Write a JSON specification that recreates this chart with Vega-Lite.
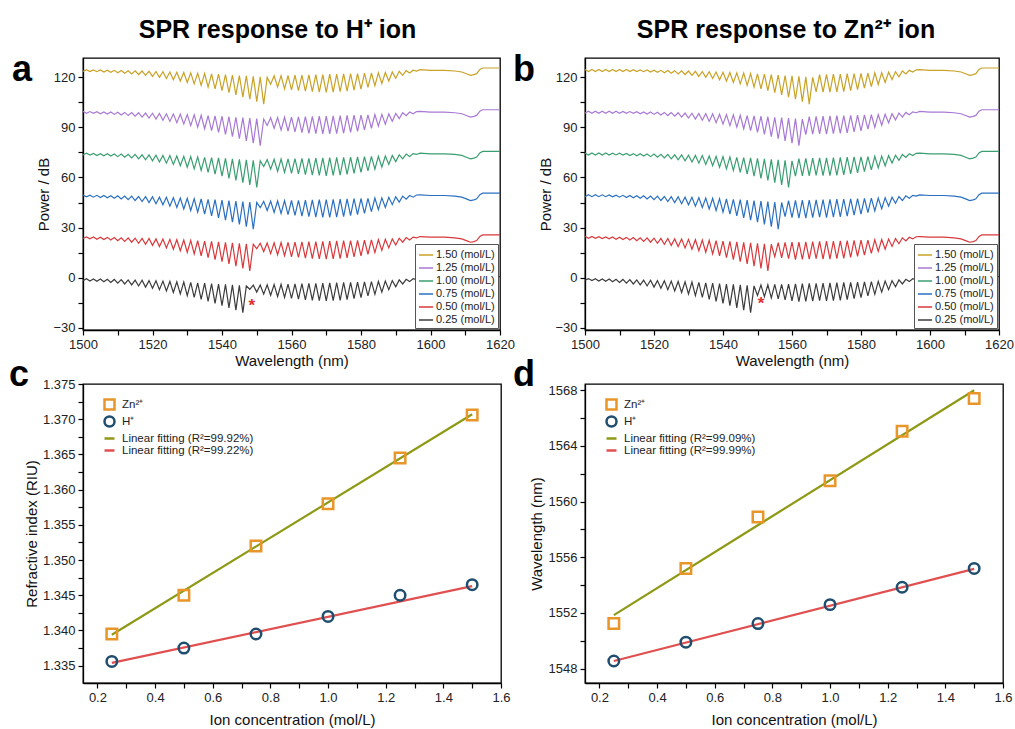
{
"$schema": "https://vega.github.io/schema/vega-lite/v6.json",
"background": "white",
"padding": {"left": 8, "top": 17, "right": 0, "bottom": 0},
"config": {
 "font": "Liberation Sans",
 "view": {"stroke": "#000", "strokeWidth": 1.3},
 "title": {"font": "Liberation Sans", "color": "#000"},
 "axis": {"grid": false, "domainColor": "#000", "domainWidth": 1.3, "tickColor": "#000", "tickWidth": 1.2, "tickSize": 5, "labelFont": "Liberation Sans", "labelFontSize": 13, "labelColor": "#222", "titleFont": "Liberation Sans", "titleFontSize": 15, "titleFontWeight": "normal", "titleColor": "#111", "labelFlush": false, "labelOverlap": false, "labelBound": false, "labelPadding": 3}
},
"datasets": {
"a025": [{"x":1500,"y":-1.8},{"x":1501,"y":-0.7},{"x":1502,"y":-2},{"x":1503,"y":-0.8},{"x":1504,"y":-2.2},{"x":1505,"y":-0.9},{"x":1506,"y":-2.5},{"x":1507,"y":-1},{"x":1508,"y":-2.9},{"x":1509,"y":-1.1},{"x":1510,"y":-3.3},{"x":1511,"y":-1.2},{"x":1512,"y":-3.8},{"x":1513,"y":-1.4},{"x":1514,"y":-4.4},{"x":1515,"y":-1.5},{"x":1516,"y":-5},{"x":1517,"y":-1.6},{"x":1518,"y":-5.7},{"x":1519,"y":-1.8},{"x":1520,"y":-6.4},{"x":1521,"y":-1.9},{"x":1522,"y":-7.2},{"x":1523,"y":-2.1},{"x":1524,"y":-8},{"x":1525,"y":-2.3},{"x":1526,"y":-8.9},{"x":1527,"y":-2.5},{"x":1528,"y":-9.8},{"x":1529,"y":-2.7},{"x":1530,"y":-10.8},{"x":1531,"y":-2.9},{"x":1532,"y":-11.9},{"x":1533,"y":-3.1},{"x":1534,"y":-13},{"x":1535,"y":-3.3},{"x":1536,"y":-14.2},{"x":1537,"y":-3.6},{"x":1538,"y":-15.5},{"x":1539,"y":-3.9},{"x":1540,"y":-16.8},{"x":1541,"y":-4.1},{"x":1542,"y":-18.1},{"x":1543,"y":-4.4},{"x":1544,"y":-19.5},{"x":1545,"y":-4.7},{"x":1546,"y":-21},{"x":1547,"y":-5},{"x":1548,"y":-7},{"x":1549,"y":-4.5},{"x":1550,"y":-8.7},{"x":1551,"y":-4.4},{"x":1552,"y":-9.9},{"x":1553,"y":-4.3},{"x":1554,"y":-10.6},{"x":1555,"y":-4.1},{"x":1556,"y":-11.3},{"x":1557,"y":-4},{"x":1558,"y":-11.9},{"x":1559,"y":-3.9},{"x":1560,"y":-12.5},{"x":1561,"y":-3.7},{"x":1562,"y":-12.9},{"x":1563,"y":-3.6},{"x":1564,"y":-13.3},{"x":1565,"y":-3.5},{"x":1566,"y":-13.6},{"x":1567,"y":-3.4},{"x":1568,"y":-13.8},{"x":1569,"y":-3.3},{"x":1570,"y":-14},{"x":1571,"y":-3.1},{"x":1572,"y":-13.8},{"x":1573,"y":-3},{"x":1574,"y":-13.6},{"x":1575,"y":-2.9},{"x":1576,"y":-13.2},{"x":1577,"y":-2.8},{"x":1578,"y":-12.6},{"x":1579,"y":-2.7},{"x":1580,"y":-12},{"x":1581,"y":-2.5},{"x":1582,"y":-11},{"x":1583,"y":-2.4},{"x":1584,"y":-10},{"x":1585,"y":-2.3},{"x":1586,"y":-8.7},{"x":1587,"y":-2.1},{"x":1588,"y":-7.2},{"x":1589,"y":-1.8},{"x":1590,"y":-5.5},{"x":1591,"y":-1.4},{"x":1592,"y":-3.8},{"x":1593,"y":-1},{"x":1594,"y":-2.4},{"x":1595,"y":-0.7},{"x":1596,"y":-1.2},{"x":1597,"y":-0.4},{"x":1600,"y":-0.8},{"x":1604,"y":-0.8},{"x":1607,"y":-1.2},{"x":1609,"y":-1.8},{"x":1610.5,"y":-3},{"x":1611.5,"y":-3.8},{"x":1612.5,"y":-3.4},{"x":1613.3,"y":-2.8},{"x":1614.2,"y":-0.3},{"x":1615,"y":0.6},{"x":1620,"y":0.6}],
"a050": [{"x":1500,"y":23.4},{"x":1501,"y":24.4},{"x":1502,"y":23.2},{"x":1503,"y":24.3},{"x":1504,"y":23},{"x":1505,"y":24.2},{"x":1506,"y":22.8},{"x":1507,"y":24.1},{"x":1508,"y":22.5},{"x":1509,"y":24},{"x":1510,"y":22.1},{"x":1511,"y":23.9},{"x":1512,"y":21.7},{"x":1513,"y":23.8},{"x":1514,"y":21.2},{"x":1515,"y":23.6},{"x":1516,"y":20.6},{"x":1517,"y":23.5},{"x":1518,"y":20},{"x":1519,"y":23.4},{"x":1520,"y":19.3},{"x":1521,"y":23.2},{"x":1522,"y":18.6},{"x":1523,"y":23.1},{"x":1524,"y":17.8},{"x":1525,"y":22.9},{"x":1526,"y":17},{"x":1527,"y":22.7},{"x":1528,"y":16.1},{"x":1529,"y":22.5},{"x":1530,"y":15.2},{"x":1531,"y":22.3},{"x":1532,"y":14.2},{"x":1533,"y":22.1},{"x":1534,"y":13.1},{"x":1535,"y":21.9},{"x":1536,"y":12},{"x":1537,"y":21.7},{"x":1538,"y":10.8},{"x":1539,"y":21.4},{"x":1540,"y":9.5},{"x":1541,"y":21.1},{"x":1542,"y":8.2},{"x":1543,"y":20.9},{"x":1544,"y":6.9},{"x":1545,"y":20.6},{"x":1546,"y":5.5},{"x":1547,"y":20.3},{"x":1548,"y":4},{"x":1549,"y":20},{"x":1550,"y":17.3},{"x":1551,"y":20.6},{"x":1552,"y":15.6},{"x":1553,"y":20.7},{"x":1554,"y":14.4},{"x":1555,"y":20.9},{"x":1556,"y":13.7},{"x":1557,"y":21},{"x":1558,"y":13.1},{"x":1559,"y":21.1},{"x":1560,"y":12.5},{"x":1561,"y":21.3},{"x":1562,"y":12.1},{"x":1563,"y":21.4},{"x":1564,"y":11.7},{"x":1565,"y":21.5},{"x":1566,"y":11.4},{"x":1567,"y":21.6},{"x":1568,"y":11.2},{"x":1569,"y":21.7},{"x":1570,"y":11},{"x":1571,"y":21.9},{"x":1572,"y":11.2},{"x":1573,"y":22},{"x":1574,"y":11.4},{"x":1575,"y":22.1},{"x":1576,"y":11.8},{"x":1577,"y":22.2},{"x":1578,"y":12.4},{"x":1579,"y":22.3},{"x":1580,"y":13},{"x":1581,"y":22.5},{"x":1582,"y":14},{"x":1583,"y":22.6},{"x":1584,"y":15},{"x":1585,"y":22.7},{"x":1586,"y":16.3},{"x":1587,"y":22.9},{"x":1588,"y":17.8},{"x":1589,"y":23.2},{"x":1590,"y":19.5},{"x":1591,"y":23.6},{"x":1592,"y":21.2},{"x":1593,"y":24},{"x":1594,"y":22.6},{"x":1595,"y":24.3},{"x":1596,"y":23.8},{"x":1597,"y":24.6},{"x":1600,"y":24.2},{"x":1604,"y":24.2},{"x":1607,"y":23.8},{"x":1609,"y":23.2},{"x":1610.5,"y":22},{"x":1611.5,"y":21.2},{"x":1612.5,"y":21.6},{"x":1613.3,"y":22.2},{"x":1614.2,"y":24.7},{"x":1615,"y":25.6},{"x":1620,"y":25.6}],
"a075": [{"x":1500,"y":49.5},{"x":1501,"y":48.4},{"x":1502,"y":49.4},{"x":1503,"y":48.2},{"x":1504,"y":49.3},{"x":1505,"y":48},{"x":1506,"y":49.2},{"x":1507,"y":47.8},{"x":1508,"y":49.1},{"x":1509,"y":47.5},{"x":1510,"y":49},{"x":1511,"y":47.1},{"x":1512,"y":48.9},{"x":1513,"y":46.7},{"x":1514,"y":48.8},{"x":1515,"y":46.2},{"x":1516,"y":48.6},{"x":1517,"y":45.6},{"x":1518,"y":48.5},{"x":1519,"y":45},{"x":1520,"y":48.4},{"x":1521,"y":44.3},{"x":1522,"y":48.2},{"x":1523,"y":43.6},{"x":1524,"y":48.1},{"x":1525,"y":42.8},{"x":1526,"y":47.9},{"x":1527,"y":42},{"x":1528,"y":47.7},{"x":1529,"y":41.1},{"x":1530,"y":47.5},{"x":1531,"y":40.2},{"x":1532,"y":47.3},{"x":1533,"y":39.2},{"x":1534,"y":47.1},{"x":1535,"y":38.1},{"x":1536,"y":46.9},{"x":1537,"y":37},{"x":1538,"y":46.7},{"x":1539,"y":35.8},{"x":1540,"y":46.4},{"x":1541,"y":34.5},{"x":1542,"y":46.1},{"x":1543,"y":33.2},{"x":1544,"y":45.9},{"x":1545,"y":31.9},{"x":1546,"y":45.6},{"x":1547,"y":30.5},{"x":1548,"y":45.3},{"x":1549,"y":29},{"x":1550,"y":45},{"x":1551,"y":41.9},{"x":1552,"y":45.7},{"x":1553,"y":40.2},{"x":1554,"y":45.8},{"x":1555,"y":39},{"x":1556,"y":45.9},{"x":1557,"y":38.4},{"x":1558,"y":46.1},{"x":1559,"y":37.8},{"x":1560,"y":46.2},{"x":1561,"y":37.3},{"x":1562,"y":46.3},{"x":1563,"y":36.9},{"x":1564,"y":46.4},{"x":1565,"y":36.5},{"x":1566,"y":46.6},{"x":1567,"y":36.3},{"x":1568,"y":46.7},{"x":1569,"y":36.1},{"x":1570,"y":46.8},{"x":1571,"y":36.1},{"x":1572,"y":46.9},{"x":1573,"y":36.3},{"x":1574,"y":47},{"x":1575,"y":36.5},{"x":1576,"y":47.2},{"x":1577,"y":37.1},{"x":1578,"y":47.3},{"x":1579,"y":37.7},{"x":1580,"y":47.4},{"x":1581,"y":38.5},{"x":1582,"y":47.5},{"x":1583,"y":39.5},{"x":1584,"y":47.7},{"x":1585,"y":40.7},{"x":1586,"y":47.8},{"x":1587,"y":42},{"x":1588,"y":48.1},{"x":1589,"y":43.7},{"x":1590,"y":48.4},{"x":1591,"y":45.3},{"x":1592,"y":48.8},{"x":1593,"y":47},{"x":1594,"y":49.2},{"x":1595,"y":48.2},{"x":1596,"y":49.5},{"x":1597,"y":49.6},{"x":1600,"y":49.2},{"x":1604,"y":49.2},{"x":1607,"y":48.8},{"x":1609,"y":48.2},{"x":1610.5,"y":47},{"x":1611.5,"y":46.2},{"x":1612.5,"y":46.6},{"x":1613.3,"y":47.2},{"x":1614.2,"y":49.7},{"x":1615,"y":50.6},{"x":1620,"y":50.6}],
"a100": [{"x":1500,"y":73.5},{"x":1501,"y":74.5},{"x":1502,"y":73.4},{"x":1503,"y":74.4},{"x":1504,"y":73.2},{"x":1505,"y":74.3},{"x":1506,"y":73},{"x":1507,"y":74.2},{"x":1508,"y":72.8},{"x":1509,"y":74.1},{"x":1510,"y":72.5},{"x":1511,"y":74},{"x":1512,"y":72.1},{"x":1513,"y":73.9},{"x":1514,"y":71.7},{"x":1515,"y":73.8},{"x":1516,"y":71.2},{"x":1517,"y":73.6},{"x":1518,"y":70.6},{"x":1519,"y":73.5},{"x":1520,"y":70},{"x":1521,"y":73.4},{"x":1522,"y":69.3},{"x":1523,"y":73.2},{"x":1524,"y":68.6},{"x":1525,"y":73.1},{"x":1526,"y":67.8},{"x":1527,"y":72.9},{"x":1528,"y":67},{"x":1529,"y":72.7},{"x":1530,"y":66.1},{"x":1531,"y":72.5},{"x":1532,"y":65.2},{"x":1533,"y":72.3},{"x":1534,"y":64.2},{"x":1535,"y":72.1},{"x":1536,"y":63.1},{"x":1537,"y":71.9},{"x":1538,"y":62},{"x":1539,"y":71.7},{"x":1540,"y":60.8},{"x":1541,"y":71.4},{"x":1542,"y":59.5},{"x":1543,"y":71.1},{"x":1544,"y":58.2},{"x":1545,"y":70.9},{"x":1546,"y":56.9},{"x":1547,"y":70.6},{"x":1548,"y":55.5},{"x":1549,"y":70.3},{"x":1550,"y":54},{"x":1551,"y":70},{"x":1552,"y":66.6},{"x":1553,"y":70.7},{"x":1554,"y":64.9},{"x":1555,"y":70.9},{"x":1556,"y":63.7},{"x":1557,"y":71},{"x":1558,"y":63.1},{"x":1559,"y":71.1},{"x":1560,"y":62.5},{"x":1561,"y":71.3},{"x":1562,"y":62.1},{"x":1563,"y":71.4},{"x":1564,"y":61.7},{"x":1565,"y":71.5},{"x":1566,"y":61.4},{"x":1567,"y":71.6},{"x":1568,"y":61.2},{"x":1569,"y":71.7},{"x":1570,"y":61},{"x":1571,"y":71.9},{"x":1572,"y":61.2},{"x":1573,"y":72},{"x":1574,"y":61.4},{"x":1575,"y":72.1},{"x":1576,"y":61.8},{"x":1577,"y":72.2},{"x":1578,"y":62.4},{"x":1579,"y":72.3},{"x":1580,"y":63},{"x":1581,"y":72.5},{"x":1582,"y":64},{"x":1583,"y":72.6},{"x":1584,"y":65},{"x":1585,"y":72.7},{"x":1586,"y":66.3},{"x":1587,"y":72.9},{"x":1588,"y":67.8},{"x":1589,"y":73.2},{"x":1590,"y":69.5},{"x":1591,"y":73.6},{"x":1592,"y":71.2},{"x":1593,"y":74},{"x":1594,"y":72.6},{"x":1595,"y":74.3},{"x":1596,"y":73.8},{"x":1597,"y":74.6},{"x":1600,"y":74.2},{"x":1604,"y":74.2},{"x":1607,"y":73.8},{"x":1609,"y":73.2},{"x":1610.5,"y":72},{"x":1611.5,"y":71.2},{"x":1612.5,"y":71.6},{"x":1613.3,"y":72.2},{"x":1614.2,"y":74.7},{"x":1615,"y":75.6},{"x":1620,"y":75.6}],
"a125": [{"x":1500,"y":99.6},{"x":1501,"y":98.5},{"x":1502,"y":99.5},{"x":1503,"y":98.4},{"x":1504,"y":99.4},{"x":1505,"y":98.2},{"x":1506,"y":99.3},{"x":1507,"y":98},{"x":1508,"y":99.2},{"x":1509,"y":97.8},{"x":1510,"y":99.1},{"x":1511,"y":97.5},{"x":1512,"y":99},{"x":1513,"y":97.1},{"x":1514,"y":98.9},{"x":1515,"y":96.7},{"x":1516,"y":98.8},{"x":1517,"y":96.2},{"x":1518,"y":98.6},{"x":1519,"y":95.6},{"x":1520,"y":98.5},{"x":1521,"y":95},{"x":1522,"y":98.4},{"x":1523,"y":94.3},{"x":1524,"y":98.2},{"x":1525,"y":93.6},{"x":1526,"y":98.1},{"x":1527,"y":92.8},{"x":1528,"y":97.9},{"x":1529,"y":92},{"x":1530,"y":97.7},{"x":1531,"y":91.1},{"x":1532,"y":97.5},{"x":1533,"y":90.2},{"x":1534,"y":97.3},{"x":1535,"y":89.2},{"x":1536,"y":97.1},{"x":1537,"y":88.1},{"x":1538,"y":96.9},{"x":1539,"y":87},{"x":1540,"y":96.7},{"x":1541,"y":85.8},{"x":1542,"y":96.4},{"x":1543,"y":84.5},{"x":1544,"y":96.1},{"x":1545,"y":83.2},{"x":1546,"y":95.9},{"x":1547,"y":81.9},{"x":1548,"y":95.6},{"x":1549,"y":80.5},{"x":1550,"y":95.3},{"x":1551,"y":79},{"x":1552,"y":95},{"x":1553,"y":91.2},{"x":1554,"y":95.8},{"x":1555,"y":89.5},{"x":1556,"y":95.9},{"x":1557,"y":88.4},{"x":1558,"y":96.1},{"x":1559,"y":87.8},{"x":1560,"y":96.2},{"x":1561,"y":87.3},{"x":1562,"y":96.3},{"x":1563,"y":86.9},{"x":1564,"y":96.4},{"x":1565,"y":86.5},{"x":1566,"y":96.6},{"x":1567,"y":86.3},{"x":1568,"y":96.7},{"x":1569,"y":86.1},{"x":1570,"y":96.8},{"x":1571,"y":86.1},{"x":1572,"y":96.9},{"x":1573,"y":86.3},{"x":1574,"y":97},{"x":1575,"y":86.5},{"x":1576,"y":97.2},{"x":1577,"y":87.1},{"x":1578,"y":97.3},{"x":1579,"y":87.7},{"x":1580,"y":97.4},{"x":1581,"y":88.5},{"x":1582,"y":97.5},{"x":1583,"y":89.5},{"x":1584,"y":97.7},{"x":1585,"y":90.7},{"x":1586,"y":97.8},{"x":1587,"y":92},{"x":1588,"y":98.1},{"x":1589,"y":93.7},{"x":1590,"y":98.4},{"x":1591,"y":95.3},{"x":1592,"y":98.8},{"x":1593,"y":97},{"x":1594,"y":99.2},{"x":1595,"y":98.2},{"x":1596,"y":99.5},{"x":1597,"y":99.6},{"x":1600,"y":99.2},{"x":1604,"y":99.2},{"x":1607,"y":98.8},{"x":1609,"y":98.2},{"x":1610.5,"y":97},{"x":1611.5,"y":96.2},{"x":1612.5,"y":96.6},{"x":1613.3,"y":97.2},{"x":1614.2,"y":99.7},{"x":1615,"y":100.6},{"x":1620,"y":100.6}],
"a150": [{"x":1500,"y":123.5},{"x":1501,"y":124.6},{"x":1502,"y":123.5},{"x":1503,"y":124.5},{"x":1504,"y":123.4},{"x":1505,"y":124.4},{"x":1506,"y":123.2},{"x":1507,"y":124.3},{"x":1508,"y":123},{"x":1509,"y":124.2},{"x":1510,"y":122.8},{"x":1511,"y":124.1},{"x":1512,"y":122.5},{"x":1513,"y":124},{"x":1514,"y":122.1},{"x":1515,"y":123.9},{"x":1516,"y":121.7},{"x":1517,"y":123.8},{"x":1518,"y":121.2},{"x":1519,"y":123.6},{"x":1520,"y":120.6},{"x":1521,"y":123.5},{"x":1522,"y":120},{"x":1523,"y":123.4},{"x":1524,"y":119.3},{"x":1525,"y":123.2},{"x":1526,"y":118.6},{"x":1527,"y":123.1},{"x":1528,"y":117.8},{"x":1529,"y":122.9},{"x":1530,"y":117},{"x":1531,"y":122.7},{"x":1532,"y":116.1},{"x":1533,"y":122.5},{"x":1534,"y":115.2},{"x":1535,"y":122.3},{"x":1536,"y":114.2},{"x":1537,"y":122.1},{"x":1538,"y":113.1},{"x":1539,"y":121.9},{"x":1540,"y":112},{"x":1541,"y":121.7},{"x":1542,"y":110.8},{"x":1543,"y":121.4},{"x":1544,"y":109.5},{"x":1545,"y":121.1},{"x":1546,"y":108.2},{"x":1547,"y":120.9},{"x":1548,"y":106.9},{"x":1549,"y":120.6},{"x":1550,"y":105.5},{"x":1551,"y":120.3},{"x":1552,"y":104},{"x":1553,"y":120},{"x":1554,"y":115.9},{"x":1555,"y":120.9},{"x":1556,"y":114.2},{"x":1557,"y":121},{"x":1558,"y":113.1},{"x":1559,"y":121.1},{"x":1560,"y":112.5},{"x":1561,"y":121.3},{"x":1562,"y":112.1},{"x":1563,"y":121.4},{"x":1564,"y":111.7},{"x":1565,"y":121.5},{"x":1566,"y":111.4},{"x":1567,"y":121.6},{"x":1568,"y":111.2},{"x":1569,"y":121.7},{"x":1570,"y":111},{"x":1571,"y":121.9},{"x":1572,"y":111.2},{"x":1573,"y":122},{"x":1574,"y":111.4},{"x":1575,"y":122.1},{"x":1576,"y":111.8},{"x":1577,"y":122.2},{"x":1578,"y":112.4},{"x":1579,"y":122.3},{"x":1580,"y":113},{"x":1581,"y":122.5},{"x":1582,"y":114},{"x":1583,"y":122.6},{"x":1584,"y":115},{"x":1585,"y":122.7},{"x":1586,"y":116.3},{"x":1587,"y":122.9},{"x":1588,"y":117.8},{"x":1589,"y":123.2},{"x":1590,"y":119.5},{"x":1591,"y":123.6},{"x":1592,"y":121.2},{"x":1593,"y":124},{"x":1594,"y":122.6},{"x":1595,"y":124.3},{"x":1596,"y":123.8},{"x":1597,"y":124.6},{"x":1600,"y":124.2},{"x":1604,"y":124.2},{"x":1607,"y":123.8},{"x":1609,"y":123.2},{"x":1610.5,"y":122},{"x":1611.5,"y":121.2},{"x":1612.5,"y":121.6},{"x":1613.3,"y":122.2},{"x":1614.2,"y":124.7},{"x":1615,"y":125.6},{"x":1620,"y":125.6}],
"b025": [{"x":1500,"y":-1.6},{"x":1501,"y":-0.6},{"x":1502,"y":-1.8},{"x":1503,"y":-0.7},{"x":1504,"y":-2},{"x":1505,"y":-0.8},{"x":1506,"y":-2.2},{"x":1507,"y":-0.9},{"x":1508,"y":-2.5},{"x":1509,"y":-1},{"x":1510,"y":-2.9},{"x":1511,"y":-1.1},{"x":1512,"y":-3.3},{"x":1513,"y":-1.2},{"x":1514,"y":-3.8},{"x":1515,"y":-1.4},{"x":1516,"y":-4.4},{"x":1517,"y":-1.5},{"x":1518,"y":-5},{"x":1519,"y":-1.6},{"x":1520,"y":-5.7},{"x":1521,"y":-1.8},{"x":1522,"y":-6.4},{"x":1523,"y":-1.9},{"x":1524,"y":-7.2},{"x":1525,"y":-2.1},{"x":1526,"y":-8},{"x":1527,"y":-2.3},{"x":1528,"y":-8.9},{"x":1529,"y":-2.5},{"x":1530,"y":-9.8},{"x":1531,"y":-2.7},{"x":1532,"y":-10.8},{"x":1533,"y":-2.9},{"x":1534,"y":-11.9},{"x":1535,"y":-3.1},{"x":1536,"y":-13},{"x":1537,"y":-3.3},{"x":1538,"y":-14.2},{"x":1539,"y":-3.6},{"x":1540,"y":-15.5},{"x":1541,"y":-3.9},{"x":1542,"y":-16.8},{"x":1543,"y":-4.1},{"x":1544,"y":-18.1},{"x":1545,"y":-4.4},{"x":1546,"y":-19.5},{"x":1547,"y":-4.7},{"x":1548,"y":-21},{"x":1549,"y":-5},{"x":1550,"y":-10.7},{"x":1551,"y":-4.4},{"x":1552,"y":-11.4},{"x":1553,"y":-4.3},{"x":1554,"y":-12.1},{"x":1555,"y":-4.1},{"x":1556,"y":-12.8},{"x":1557,"y":-4},{"x":1558,"y":-13.4},{"x":1559,"y":-3.9},{"x":1560,"y":-14},{"x":1561,"y":-3.7},{"x":1562,"y":-14.4},{"x":1563,"y":-3.6},{"x":1564,"y":-14.3},{"x":1565,"y":-3.5},{"x":1566,"y":-14.1},{"x":1567,"y":-3.4},{"x":1568,"y":-13.8},{"x":1569,"y":-3.3},{"x":1570,"y":-14},{"x":1571,"y":-3.1},{"x":1572,"y":-13.8},{"x":1573,"y":-3},{"x":1574,"y":-13.6},{"x":1575,"y":-2.9},{"x":1576,"y":-13.2},{"x":1577,"y":-2.8},{"x":1578,"y":-12.6},{"x":1579,"y":-2.7},{"x":1580,"y":-12},{"x":1581,"y":-2.5},{"x":1582,"y":-11},{"x":1583,"y":-2.4},{"x":1584,"y":-10},{"x":1585,"y":-2.3},{"x":1586,"y":-8.7},{"x":1587,"y":-2.1},{"x":1588,"y":-7.2},{"x":1589,"y":-1.8},{"x":1590,"y":-5.5},{"x":1591,"y":-1.4},{"x":1592,"y":-3.8},{"x":1593,"y":-1},{"x":1594,"y":-2.4},{"x":1595,"y":-0.7},{"x":1596,"y":-1.2},{"x":1597,"y":-0.4},{"x":1600,"y":-0.8},{"x":1604,"y":-0.8},{"x":1607,"y":-1.2},{"x":1609,"y":-1.8},{"x":1610.5,"y":-3},{"x":1611.5,"y":-3.8},{"x":1612.5,"y":-3.4},{"x":1613.3,"y":-2.8},{"x":1614.2,"y":-0.3},{"x":1615,"y":0.6},{"x":1620,"y":0.6}],
"b050": [{"x":1500,"y":24.7},{"x":1501,"y":23.5},{"x":1502,"y":24.6},{"x":1503,"y":23.5},{"x":1504,"y":24.5},{"x":1505,"y":23.4},{"x":1506,"y":24.4},{"x":1507,"y":23.2},{"x":1508,"y":24.3},{"x":1509,"y":23},{"x":1510,"y":24.2},{"x":1511,"y":22.8},{"x":1512,"y":24.1},{"x":1513,"y":22.5},{"x":1514,"y":24},{"x":1515,"y":22.1},{"x":1516,"y":23.9},{"x":1517,"y":21.7},{"x":1518,"y":23.8},{"x":1519,"y":21.2},{"x":1520,"y":23.6},{"x":1521,"y":20.6},{"x":1522,"y":23.5},{"x":1523,"y":20},{"x":1524,"y":23.4},{"x":1525,"y":19.3},{"x":1526,"y":23.2},{"x":1527,"y":18.6},{"x":1528,"y":23.1},{"x":1529,"y":17.8},{"x":1530,"y":22.9},{"x":1531,"y":17},{"x":1532,"y":22.7},{"x":1533,"y":16.1},{"x":1534,"y":22.5},{"x":1535,"y":15.2},{"x":1536,"y":22.3},{"x":1537,"y":14.2},{"x":1538,"y":22.1},{"x":1539,"y":13.1},{"x":1540,"y":21.9},{"x":1541,"y":12},{"x":1542,"y":21.7},{"x":1543,"y":10.8},{"x":1544,"y":21.4},{"x":1545,"y":9.5},{"x":1546,"y":21.1},{"x":1547,"y":8.2},{"x":1548,"y":20.9},{"x":1549,"y":6.9},{"x":1550,"y":20.6},{"x":1551,"y":5.5},{"x":1552,"y":20.3},{"x":1553,"y":4},{"x":1554,"y":20},{"x":1555,"y":12.5},{"x":1556,"y":20.9},{"x":1557,"y":11.9},{"x":1558,"y":21.1},{"x":1559,"y":11.3},{"x":1560,"y":21.2},{"x":1561,"y":10.8},{"x":1562,"y":21.3},{"x":1563,"y":10.9},{"x":1564,"y":21.4},{"x":1565,"y":11},{"x":1566,"y":21.6},{"x":1567,"y":11.3},{"x":1568,"y":21.7},{"x":1569,"y":11.1},{"x":1570,"y":21.8},{"x":1571,"y":11.1},{"x":1572,"y":21.9},{"x":1573,"y":11.3},{"x":1574,"y":22},{"x":1575,"y":11.5},{"x":1576,"y":22.2},{"x":1577,"y":12.1},{"x":1578,"y":22.3},{"x":1579,"y":12.7},{"x":1580,"y":22.4},{"x":1581,"y":13.5},{"x":1582,"y":22.5},{"x":1583,"y":14.5},{"x":1584,"y":22.7},{"x":1585,"y":15.7},{"x":1586,"y":22.8},{"x":1587,"y":17},{"x":1588,"y":23.1},{"x":1589,"y":18.7},{"x":1590,"y":23.4},{"x":1591,"y":20.3},{"x":1592,"y":23.8},{"x":1593,"y":22},{"x":1594,"y":24.2},{"x":1595,"y":23.2},{"x":1596,"y":24.5},{"x":1597,"y":24.6},{"x":1600,"y":24.2},{"x":1604,"y":24.2},{"x":1607,"y":23.8},{"x":1609,"y":23.2},{"x":1610.5,"y":22},{"x":1611.5,"y":21.2},{"x":1612.5,"y":21.6},{"x":1613.3,"y":22.2},{"x":1614.2,"y":24.7},{"x":1615,"y":25.6},{"x":1620,"y":25.6}],
"b075": [{"x":1500,"y":48.5},{"x":1501,"y":49.7},{"x":1502,"y":48.5},{"x":1503,"y":49.7},{"x":1504,"y":48.5},{"x":1505,"y":49.6},{"x":1506,"y":48.5},{"x":1507,"y":49.5},{"x":1508,"y":48.4},{"x":1509,"y":49.4},{"x":1510,"y":48.2},{"x":1511,"y":49.3},{"x":1512,"y":48},{"x":1513,"y":49.2},{"x":1514,"y":47.8},{"x":1515,"y":49.1},{"x":1516,"y":47.5},{"x":1517,"y":49},{"x":1518,"y":47.1},{"x":1519,"y":48.9},{"x":1520,"y":46.7},{"x":1521,"y":48.8},{"x":1522,"y":46.2},{"x":1523,"y":48.6},{"x":1524,"y":45.6},{"x":1525,"y":48.5},{"x":1526,"y":45},{"x":1527,"y":48.4},{"x":1528,"y":44.3},{"x":1529,"y":48.2},{"x":1530,"y":43.6},{"x":1531,"y":48.1},{"x":1532,"y":42.8},{"x":1533,"y":47.9},{"x":1534,"y":42},{"x":1535,"y":47.7},{"x":1536,"y":41.1},{"x":1537,"y":47.5},{"x":1538,"y":40.2},{"x":1539,"y":47.3},{"x":1540,"y":39.2},{"x":1541,"y":47.1},{"x":1542,"y":38.1},{"x":1543,"y":46.9},{"x":1544,"y":37},{"x":1545,"y":46.7},{"x":1546,"y":35.8},{"x":1547,"y":46.4},{"x":1548,"y":34.5},{"x":1549,"y":46.1},{"x":1550,"y":33.2},{"x":1551,"y":45.9},{"x":1552,"y":31.9},{"x":1553,"y":45.6},{"x":1554,"y":30.5},{"x":1555,"y":45.3},{"x":1556,"y":29},{"x":1557,"y":45},{"x":1558,"y":36.6},{"x":1559,"y":46.1},{"x":1560,"y":36},{"x":1561,"y":46.3},{"x":1562,"y":35.6},{"x":1563,"y":46.4},{"x":1564,"y":35.7},{"x":1565,"y":46.5},{"x":1566,"y":35.9},{"x":1567,"y":46.6},{"x":1568,"y":36.2},{"x":1569,"y":46.7},{"x":1570,"y":36},{"x":1571,"y":46.9},{"x":1572,"y":36.2},{"x":1573,"y":47},{"x":1574,"y":36.4},{"x":1575,"y":47.1},{"x":1576,"y":36.8},{"x":1577,"y":47.2},{"x":1578,"y":37.4},{"x":1579,"y":47.3},{"x":1580,"y":38},{"x":1581,"y":47.5},{"x":1582,"y":39},{"x":1583,"y":47.6},{"x":1584,"y":40},{"x":1585,"y":47.7},{"x":1586,"y":41.3},{"x":1587,"y":47.9},{"x":1588,"y":42.8},{"x":1589,"y":48.2},{"x":1590,"y":44.5},{"x":1591,"y":48.6},{"x":1592,"y":46.2},{"x":1593,"y":49},{"x":1594,"y":47.6},{"x":1595,"y":49.3},{"x":1596,"y":48.8},{"x":1597,"y":49.6},{"x":1600,"y":49.2},{"x":1604,"y":49.2},{"x":1607,"y":48.8},{"x":1609,"y":48.2},{"x":1610.5,"y":47},{"x":1611.5,"y":46.2},{"x":1612.5,"y":46.6},{"x":1613.3,"y":47.2},{"x":1614.2,"y":49.7},{"x":1615,"y":50.6},{"x":1620,"y":50.6}],
"b100": [{"x":1500,"y":74.7},{"x":1501,"y":73.5},{"x":1502,"y":74.7},{"x":1503,"y":73.5},{"x":1504,"y":74.7},{"x":1505,"y":73.5},{"x":1506,"y":74.7},{"x":1507,"y":73.5},{"x":1508,"y":74.6},{"x":1509,"y":73.5},{"x":1510,"y":74.5},{"x":1511,"y":73.4},{"x":1512,"y":74.4},{"x":1513,"y":73.2},{"x":1514,"y":74.3},{"x":1515,"y":73},{"x":1516,"y":74.2},{"x":1517,"y":72.8},{"x":1518,"y":74.1},{"x":1519,"y":72.5},{"x":1520,"y":74},{"x":1521,"y":72.1},{"x":1522,"y":73.9},{"x":1523,"y":71.7},{"x":1524,"y":73.8},{"x":1525,"y":71.2},{"x":1526,"y":73.6},{"x":1527,"y":70.6},{"x":1528,"y":73.5},{"x":1529,"y":70},{"x":1530,"y":73.4},{"x":1531,"y":69.3},{"x":1532,"y":73.2},{"x":1533,"y":68.6},{"x":1534,"y":73.1},{"x":1535,"y":67.8},{"x":1536,"y":72.9},{"x":1537,"y":67},{"x":1538,"y":72.7},{"x":1539,"y":66.1},{"x":1540,"y":72.5},{"x":1541,"y":65.2},{"x":1542,"y":72.3},{"x":1543,"y":64.2},{"x":1544,"y":72.1},{"x":1545,"y":63.1},{"x":1546,"y":71.9},{"x":1547,"y":62},{"x":1548,"y":71.7},{"x":1549,"y":60.8},{"x":1550,"y":71.4},{"x":1551,"y":59.5},{"x":1552,"y":71.1},{"x":1553,"y":58.2},{"x":1554,"y":70.9},{"x":1555,"y":56.9},{"x":1556,"y":70.6},{"x":1557,"y":55.5},{"x":1558,"y":70.3},{"x":1559,"y":54},{"x":1560,"y":70},{"x":1561,"y":60.8},{"x":1562,"y":71.3},{"x":1563,"y":60.9},{"x":1564,"y":71.4},{"x":1565,"y":61},{"x":1566,"y":71.6},{"x":1567,"y":61.3},{"x":1568,"y":71.7},{"x":1569,"y":61.1},{"x":1570,"y":71.8},{"x":1571,"y":61.1},{"x":1572,"y":71.9},{"x":1573,"y":61.3},{"x":1574,"y":72},{"x":1575,"y":61.5},{"x":1576,"y":72.2},{"x":1577,"y":62.1},{"x":1578,"y":72.3},{"x":1579,"y":62.7},{"x":1580,"y":72.4},{"x":1581,"y":63.5},{"x":1582,"y":72.5},{"x":1583,"y":64.5},{"x":1584,"y":72.7},{"x":1585,"y":65.7},{"x":1586,"y":72.8},{"x":1587,"y":67},{"x":1588,"y":73.1},{"x":1589,"y":68.7},{"x":1590,"y":73.4},{"x":1591,"y":70.3},{"x":1592,"y":73.8},{"x":1593,"y":72},{"x":1594,"y":74.2},{"x":1595,"y":73.2},{"x":1596,"y":74.5},{"x":1597,"y":74.6},{"x":1600,"y":74.2},{"x":1604,"y":74.2},{"x":1607,"y":73.8},{"x":1609,"y":73.2},{"x":1610.5,"y":72},{"x":1611.5,"y":71.2},{"x":1612.5,"y":71.6},{"x":1613.3,"y":72.2},{"x":1614.2,"y":74.7},{"x":1615,"y":75.6},{"x":1620,"y":75.6}],
"b125": [{"x":1500,"y":98.5},{"x":1501,"y":99.7},{"x":1502,"y":98.5},{"x":1503,"y":99.7},{"x":1504,"y":98.5},{"x":1505,"y":99.7},{"x":1506,"y":98.5},{"x":1507,"y":99.7},{"x":1508,"y":98.5},{"x":1509,"y":99.7},{"x":1510,"y":98.5},{"x":1511,"y":99.6},{"x":1512,"y":98.5},{"x":1513,"y":99.5},{"x":1514,"y":98.4},{"x":1515,"y":99.4},{"x":1516,"y":98.2},{"x":1517,"y":99.3},{"x":1518,"y":98},{"x":1519,"y":99.2},{"x":1520,"y":97.8},{"x":1521,"y":99.1},{"x":1522,"y":97.5},{"x":1523,"y":99},{"x":1524,"y":97.1},{"x":1525,"y":98.9},{"x":1526,"y":96.7},{"x":1527,"y":98.8},{"x":1528,"y":96.2},{"x":1529,"y":98.6},{"x":1530,"y":95.6},{"x":1531,"y":98.5},{"x":1532,"y":95},{"x":1533,"y":98.4},{"x":1534,"y":94.3},{"x":1535,"y":98.2},{"x":1536,"y":93.6},{"x":1537,"y":98.1},{"x":1538,"y":92.8},{"x":1539,"y":97.9},{"x":1540,"y":92},{"x":1541,"y":97.7},{"x":1542,"y":91.1},{"x":1543,"y":97.5},{"x":1544,"y":90.2},{"x":1545,"y":97.3},{"x":1546,"y":89.2},{"x":1547,"y":97.1},{"x":1548,"y":88.1},{"x":1549,"y":96.9},{"x":1550,"y":87},{"x":1551,"y":96.7},{"x":1552,"y":85.8},{"x":1553,"y":96.4},{"x":1554,"y":84.5},{"x":1555,"y":96.1},{"x":1556,"y":83.2},{"x":1557,"y":95.9},{"x":1558,"y":81.9},{"x":1559,"y":95.6},{"x":1560,"y":80.5},{"x":1561,"y":95.3},{"x":1562,"y":79},{"x":1563,"y":95},{"x":1564,"y":85.7},{"x":1565,"y":96.5},{"x":1566,"y":85.9},{"x":1567,"y":96.6},{"x":1568,"y":86.2},{"x":1569,"y":96.7},{"x":1570,"y":86},{"x":1571,"y":96.9},{"x":1572,"y":86.2},{"x":1573,"y":97},{"x":1574,"y":86.4},{"x":1575,"y":97.1},{"x":1576,"y":86.8},{"x":1577,"y":97.2},{"x":1578,"y":87.4},{"x":1579,"y":97.3},{"x":1580,"y":88},{"x":1581,"y":97.5},{"x":1582,"y":89},{"x":1583,"y":97.6},{"x":1584,"y":90},{"x":1585,"y":97.7},{"x":1586,"y":91.3},{"x":1587,"y":97.9},{"x":1588,"y":92.8},{"x":1589,"y":98.2},{"x":1590,"y":94.5},{"x":1591,"y":98.6},{"x":1592,"y":96.2},{"x":1593,"y":99},{"x":1594,"y":97.6},{"x":1595,"y":99.3},{"x":1596,"y":98.8},{"x":1597,"y":99.6},{"x":1600,"y":99.2},{"x":1604,"y":99.2},{"x":1607,"y":98.8},{"x":1609,"y":98.2},{"x":1610.5,"y":97},{"x":1611.5,"y":96.2},{"x":1612.5,"y":96.6},{"x":1613.3,"y":97.2},{"x":1614.2,"y":99.7},{"x":1615,"y":100.6},{"x":1620,"y":100.6}],
"b150": [{"x":1500,"y":124.7},{"x":1501,"y":123.5},{"x":1502,"y":124.7},{"x":1503,"y":123.5},{"x":1504,"y":124.7},{"x":1505,"y":123.5},{"x":1506,"y":124.7},{"x":1507,"y":123.5},{"x":1508,"y":124.7},{"x":1509,"y":123.5},{"x":1510,"y":124.7},{"x":1511,"y":123.5},{"x":1512,"y":124.7},{"x":1513,"y":123.5},{"x":1514,"y":124.6},{"x":1515,"y":123.5},{"x":1516,"y":124.5},{"x":1517,"y":123.4},{"x":1518,"y":124.4},{"x":1519,"y":123.2},{"x":1520,"y":124.3},{"x":1521,"y":123},{"x":1522,"y":124.2},{"x":1523,"y":122.8},{"x":1524,"y":124.1},{"x":1525,"y":122.5},{"x":1526,"y":124},{"x":1527,"y":122.1},{"x":1528,"y":123.9},{"x":1529,"y":121.7},{"x":1530,"y":123.8},{"x":1531,"y":121.2},{"x":1532,"y":123.6},{"x":1533,"y":120.6},{"x":1534,"y":123.5},{"x":1535,"y":120},{"x":1536,"y":123.4},{"x":1537,"y":119.3},{"x":1538,"y":123.2},{"x":1539,"y":118.6},{"x":1540,"y":123.1},{"x":1541,"y":117.8},{"x":1542,"y":122.9},{"x":1543,"y":117},{"x":1544,"y":122.7},{"x":1545,"y":116.1},{"x":1546,"y":122.5},{"x":1547,"y":115.2},{"x":1548,"y":122.3},{"x":1549,"y":114.2},{"x":1550,"y":122.1},{"x":1551,"y":113.1},{"x":1552,"y":121.9},{"x":1553,"y":112},{"x":1554,"y":121.7},{"x":1555,"y":110.8},{"x":1556,"y":121.4},{"x":1557,"y":109.5},{"x":1558,"y":121.1},{"x":1559,"y":108.2},{"x":1560,"y":120.9},{"x":1561,"y":106.9},{"x":1562,"y":120.6},{"x":1563,"y":105.5},{"x":1564,"y":120.3},{"x":1565,"y":104},{"x":1566,"y":120},{"x":1567,"y":111.3},{"x":1568,"y":121.7},{"x":1569,"y":111.1},{"x":1570,"y":121.8},{"x":1571,"y":111.1},{"x":1572,"y":121.9},{"x":1573,"y":111.3},{"x":1574,"y":122},{"x":1575,"y":111.5},{"x":1576,"y":122.2},{"x":1577,"y":112.1},{"x":1578,"y":122.3},{"x":1579,"y":112.7},{"x":1580,"y":122.4},{"x":1581,"y":113.5},{"x":1582,"y":122.5},{"x":1583,"y":114.5},{"x":1584,"y":122.7},{"x":1585,"y":115.7},{"x":1586,"y":122.8},{"x":1587,"y":117},{"x":1588,"y":123.1},{"x":1589,"y":118.7},{"x":1590,"y":123.4},{"x":1591,"y":120.3},{"x":1592,"y":123.8},{"x":1593,"y":122},{"x":1594,"y":124.2},{"x":1595,"y":123.2},{"x":1596,"y":124.5},{"x":1597,"y":124.6},{"x":1600,"y":124.2},{"x":1604,"y":124.2},{"x":1607,"y":123.8},{"x":1609,"y":123.2},{"x":1610.5,"y":122},{"x":1611.5,"y":121.2},{"x":1612.5,"y":121.6},{"x":1613.3,"y":122.2},{"x":1614.2,"y":124.7},{"x":1615,"y":125.6},{"x":1620,"y":125.6}],
"stara": [{"x":1548.6,"y":-17,"t":"*"}],
"starb": [{"x":1551,"y":-16,"t":"*"}],
"leta": [{"x":1479.6,"y":117.8,"t":"a"}],
"letb": [{"x":1479.1,"y":117.8,"t":"b"}],
"letc": [{"x":-0.1067,"y":1.37472,"t":"c"}],
"letd": [{"x":-0.0997,"y":1568.31,"t":"d"}],
"cpts": [{"s":"Zn²⁺","x":0.25,"y":1.3395},{"s":"Zn²⁺","x":0.5,"y":1.345},{"s":"Zn²⁺","x":0.75,"y":1.352},{"s":"Zn²⁺","x":1.0,"y":1.358},{"s":"Zn²⁺","x":1.25,"y":1.3645},{"s":"Zn²⁺","x":1.5,"y":1.3706},{"s":"H⁺","x":0.25,"y":1.3356},{"s":"H⁺","x":0.5,"y":1.3375},{"s":"H⁺","x":0.75,"y":1.3395},{"s":"H⁺","x":1.0,"y":1.342},{"s":"H⁺","x":1.25,"y":1.345},{"s":"H⁺","x":1.5,"y":1.3465}],
"cfit": [{"s":"Linear fitting (R²=99.92%)","x":0.25,"y":1.3394},{"s":"Linear fitting (R²=99.92%)","x":1.5,"y":1.3707},{"s":"Linear fitting (R²=99.22%)","x":0.25,"y":1.3354},{"s":"Linear fitting (R²=99.22%)","x":1.5,"y":1.3463}],
"dpts": [{"s":"Zn²⁺","x":0.25,"y":1551.24},{"s":"Zn²⁺","x":0.5,"y":1555.2},{"s":"Zn²⁺","x":0.75,"y":1558.9},{"s":"Zn²⁺","x":1.0,"y":1561.5},{"s":"Zn²⁺","x":1.25,"y":1565.05},{"s":"Zn²⁺","x":1.5,"y":1567.4},{"s":"H⁺","x":0.25,"y":1548.55},{"s":"H⁺","x":0.5,"y":1549.9},{"s":"H⁺","x":0.75,"y":1551.24},{"s":"H⁺","x":1.0,"y":1552.6},{"s":"H⁺","x":1.25,"y":1553.85},{"s":"H⁺","x":1.5,"y":1555.2}],
"dfit": [{"s":"Linear fitting (R²=99.09%)","x":0.25,"y":1551.85},{"s":"Linear fitting (R²=99.09%)","x":1.5,"y":1568.0},{"s":"Linear fitting (R²=99.99%)","x":0.25,"y":1548.55},{"s":"Linear fitting (R²=99.99%)","x":1.5,"y":1555.17}]
},
"vconcat": [
 {"hconcat": [
  {"width": 417, "height": 272,
   "title": {"text": "SPR response to H⁺ ion", "fontSize": 25, "fontWeight": "bold", "anchor": "middle", "frame": "group", "offset": 9, "dx": -14},
   "encoding": {
    "x": {"field": "x", "type": "quantitative", "scale": {"domain": [1500, 1620], "nice": false, "zero": false}, "axis": {"title": "Wavelength (nm)", "values": [1500,1510,1520,1530,1540,1550,1560,1570,1580,1590,1600,1610,1620], "labelExpr": "datum.value % 20 === 0 ? datum.label : ''", "format": "d", "titlePadding": 2}},
    "y": {"field": "y", "type": "quantitative", "scale": {"domain": [-31.4, 131.6], "nice": false, "zero": false}, "axis": {"title": "Power / dB", "values": [-30,-15,0,15,30,45,60,75,90,105,120], "labelExpr": "datum.value % 30 === 0 ? datum.label : ''", "format": "d", "titlePadding": 1}}
   },
   "layer": [
    {"data": {"name": "a150"}, "mark": {"type": "line", "strokeWidth": 1.2, "clip": true}, "encoding": {"color": {"datum": "1.50", "type": "nominal", "scale": {"domain": ["1.50","1.25","1.00","0.75","0.50","0.25"], "range": ["#c9a227","#a879d4","#3a9e72","#2b70c0","#d8393c","#3c3c3c"]}, "legend": {"title": null, "orient": "bottom-right", "offset": 2, "labelExpr": "datum.label + ' (mol/L)'", "symbolType": "stroke", "symbolStrokeWidth": 1.5, "symbolSize": 200, "labelFontSize": 11, "labelColor": "#222", "strokeColor": "#555", "fillColor": "white", "padding": 3, "rowPadding": 0, "labelOffset": 2}}}},
    {"data": {"name": "a125"}, "mark": {"type": "line", "strokeWidth": 1.2, "clip": true}, "encoding": {"color": {"datum": "1.25", "type": "nominal"}}},
    {"data": {"name": "a100"}, "mark": {"type": "line", "strokeWidth": 1.2, "clip": true}, "encoding": {"color": {"datum": "1.00", "type": "nominal"}}},
    {"data": {"name": "a075"}, "mark": {"type": "line", "strokeWidth": 1.2, "clip": true}, "encoding": {"color": {"datum": "0.75", "type": "nominal"}}},
    {"data": {"name": "a050"}, "mark": {"type": "line", "strokeWidth": 1.2, "clip": true}, "encoding": {"color": {"datum": "0.50", "type": "nominal"}}},
    {"data": {"name": "a025"}, "mark": {"type": "line", "strokeWidth": 1.2, "clip": true}, "encoding": {"color": {"datum": "0.25", "type": "nominal"}}},
    {"data": {"name": "stara"}, "mark": {"type": "text", "color": "#e03030", "fontSize": 17, "fontWeight": "bold", "baseline": "middle"}, "encoding": {"text": {"field": "t"}}},
    {"data": {"name": "leta"}, "mark": {"type": "text", "fontSize": 36, "fontWeight": "bold", "font": "Liberation Sans", "align": "left", "baseline": "alphabetic", "color": "#000"}, "encoding": {"text": {"field": "t"}}}
   ]},
  {"width": 414, "height": 272,
   "title": {"text": "SPR response to Zn²⁺ ion", "fontSize": 25, "fontWeight": "bold", "anchor": "middle", "frame": "group", "offset": 9, "dx": -6},
   "encoding": {
    "x": {"field": "x", "type": "quantitative", "scale": {"domain": [1500, 1620], "nice": false, "zero": false}, "axis": {"title": "Wavelength (nm)", "values": [1500,1510,1520,1530,1540,1550,1560,1570,1580,1590,1600,1610,1620], "labelExpr": "datum.value % 20 === 0 ? datum.label : ''", "format": "d", "titlePadding": 2}},
    "y": {"field": "y", "type": "quantitative", "scale": {"domain": [-31.4, 131.6], "nice": false, "zero": false}, "axis": {"title": "Power / dB", "values": [-30,-15,0,15,30,45,60,75,90,105,120], "labelExpr": "datum.value % 30 === 0 ? datum.label : ''", "format": "d", "titlePadding": 1}}
   },
   "layer": [
    {"data": {"name": "b150"}, "mark": {"type": "line", "strokeWidth": 1.2, "clip": true}, "encoding": {"color": {"datum": "1.50", "type": "nominal", "scale": {"domain": ["1.50","1.25","1.00","0.75","0.50","0.25"], "range": ["#c9a227","#a879d4","#3a9e72","#2b70c0","#d8393c","#3c3c3c"]}, "legend": {"title": null, "orient": "bottom-right", "offset": 2, "labelExpr": "datum.label + ' (mol/L)'", "symbolType": "stroke", "symbolStrokeWidth": 1.5, "symbolSize": 200, "labelFontSize": 11, "labelColor": "#222", "strokeColor": "#555", "fillColor": "white", "padding": 3, "rowPadding": 0, "labelOffset": 2}}}},
    {"data": {"name": "b125"}, "mark": {"type": "line", "strokeWidth": 1.2, "clip": true}, "encoding": {"color": {"datum": "1.25", "type": "nominal"}}},
    {"data": {"name": "b100"}, "mark": {"type": "line", "strokeWidth": 1.2, "clip": true}, "encoding": {"color": {"datum": "1.00", "type": "nominal"}}},
    {"data": {"name": "b075"}, "mark": {"type": "line", "strokeWidth": 1.2, "clip": true}, "encoding": {"color": {"datum": "0.75", "type": "nominal"}}},
    {"data": {"name": "b050"}, "mark": {"type": "line", "strokeWidth": 1.2, "clip": true}, "encoding": {"color": {"datum": "0.50", "type": "nominal"}}},
    {"data": {"name": "b025"}, "mark": {"type": "line", "strokeWidth": 1.2, "clip": true}, "encoding": {"color": {"datum": "0.25", "type": "nominal"}}},
    {"data": {"name": "starb"}, "mark": {"type": "text", "color": "#e03030", "fontSize": 17, "fontWeight": "bold", "baseline": "middle"}, "encoding": {"text": {"field": "t"}}},
    {"data": {"name": "letb"}, "mark": {"type": "text", "fontSize": 36, "fontWeight": "bold", "font": "Liberation Sans", "align": "left", "baseline": "alphabetic", "color": "#000"}, "encoding": {"text": {"field": "t"}}}
   ]}
 ], "spacing": -4, "resolve": {"scale": {"color": "independent"}, "legend": {"color": "independent"}}},
 {"hconcat": [
  {"width": 418, "height": 299,
   "encoding": {
    "x": {"field": "x", "type": "quantitative", "scale": {"domain": [0.15, 1.6], "nice": false, "zero": false}, "axis": {"title": "Ion concentration (mol/L)", "values": [0.2,0.3,0.4,0.5,0.6,0.7,0.8,0.9,1.0,1.1,1.2,1.3,1.4,1.5,1.6], "labelExpr": "round(datum.value*10) % 2 === 0 ? format(datum.value, '.1f') : ''", "titlePadding": 8}},
    "y": {"field": "y", "type": "quantitative", "scale": {"domain": [1.33254, 1.375], "nice": false, "zero": false}, "axis": {"title": "Refractive index (RIU)", "values": [1.335,1.3375,1.34,1.3425,1.345,1.3475,1.35,1.3525,1.355,1.3575,1.36,1.3625,1.365,1.3675,1.37,1.3725,1.375], "labelExpr": "round(datum.value*10000) % 50 === 0 ? format(datum.value, '.3f') : ''", "titlePadding": 3}}
   },
   "layer": [
    {"data": {"name": "cfit"}, "mark": {"type": "line", "strokeWidth": 2.2}, "encoding": {"color": {"field": "s", "type": "nominal", "scale": {"domain": ["Zn²⁺","H⁺","Linear fitting (R²=99.92%)","Linear fitting (R²=99.22%)"], "range": ["#e8962a","#1f4e6e","#8e9a16","#e05050"]}, "legend": {"title": null, "orient": "top-left", "offset": 14, "symbolOffset": 6, "symbolStrokeWidth": 2.5, "symbolSize": 100, "labelFontSize": 11.5, "labelColor": "#222", "rowPadding": -6, "labelOffset": 6, "padding": 0}}}},
    {"data": {"name": "cpts"}, "mark": {"type": "point", "filled": false, "strokeWidth": 2.5, "size": 110, "opacity": 1}, "encoding": {"color": {"field": "s", "type": "nominal"}, "shape": {"field": "s", "type": "nominal", "scale": {"domain": ["Zn²⁺","H⁺","Linear fitting (R²=99.92%)","Linear fitting (R²=99.22%)"], "range": ["square","circle","stroke","stroke"]}, "legend": {"title": null, "orient": "top-left", "offset": 14, "symbolOffset": 6, "symbolStrokeWidth": 2.5, "symbolSize": 100, "labelFontSize": 11.5, "labelColor": "#222", "rowPadding": -6, "labelOffset": 6, "padding": 0}}}},
    {"data": {"name": "letc"}, "mark": {"type": "text", "fontSize": 36, "fontWeight": "bold", "font": "Liberation Sans", "align": "left", "baseline": "alphabetic", "color": "#000"}, "encoding": {"text": {"field": "t"}}}
   ]},
  {"width": 418, "height": 299,
   "encoding": {
    "x": {"field": "x", "type": "quantitative", "scale": {"domain": [0.15, 1.6], "nice": false, "zero": false}, "axis": {"title": "Ion concentration (mol/L)", "values": [0.2,0.3,0.4,0.5,0.6,0.7,0.8,0.9,1.0,1.1,1.2,1.3,1.4,1.5,1.6], "labelExpr": "round(datum.value*10) % 2 === 0 ? format(datum.value, '.1f') : ''", "titlePadding": 8}},
    "y": {"field": "y", "type": "quantitative", "scale": {"domain": [1546.97, 1568.45], "nice": false, "zero": false}, "axis": {"title": "Wavelength (nm)", "values": [1548,1550,1552,1554,1556,1558,1560,1562,1564,1566,1568], "labelExpr": "datum.value % 4 === 0 ? datum.label : ''", "format": "d", "titlePadding": 4}}
   },
   "layer": [
    {"data": {"name": "dfit"}, "mark": {"type": "line", "strokeWidth": 2.2}, "encoding": {"color": {"field": "s", "type": "nominal", "scale": {"domain": ["Zn²⁺","H⁺","Linear fitting (R²=99.09%)","Linear fitting (R²=99.99%)"], "range": ["#e8962a","#1f4e6e","#8e9a16","#e05050"]}, "legend": {"title": null, "orient": "top-left", "offset": 14, "symbolOffset": 6, "symbolStrokeWidth": 2.5, "symbolSize": 100, "labelFontSize": 11.5, "labelColor": "#222", "rowPadding": -6, "labelOffset": 6, "padding": 0}}}},
    {"data": {"name": "dpts"}, "mark": {"type": "point", "filled": false, "strokeWidth": 2.5, "size": 110, "opacity": 1}, "encoding": {"color": {"field": "s", "type": "nominal"}, "shape": {"field": "s", "type": "nominal", "scale": {"domain": ["Zn²⁺","H⁺","Linear fitting (R²=99.09%)","Linear fitting (R²=99.99%)"], "range": ["square","circle","stroke","stroke"]}, "legend": {"title": null, "orient": "top-left", "offset": 14, "symbolOffset": 6, "symbolStrokeWidth": 2.5, "symbolSize": 100, "labelFontSize": 11.5, "labelColor": "#222", "rowPadding": -6, "labelOffset": 6, "padding": 0}}}},
    {"data": {"name": "letd"}, "mark": {"type": "text", "fontSize": 36, "fontWeight": "bold", "font": "Liberation Sans", "align": "left", "baseline": "alphabetic", "color": "#000"}, "encoding": {"text": {"field": "t"}}}
   ]}
 ], "spacing": 1, "resolve": {"scale": {"color": "independent", "shape": "independent"}, "legend": {"color": "independent", "shape": "independent"}}}
],
"spacing": -13,
"resolve": {"scale": {"color": "independent", "shape": "independent"}, "legend": {"color": "independent", "shape": "independent"}}
}
